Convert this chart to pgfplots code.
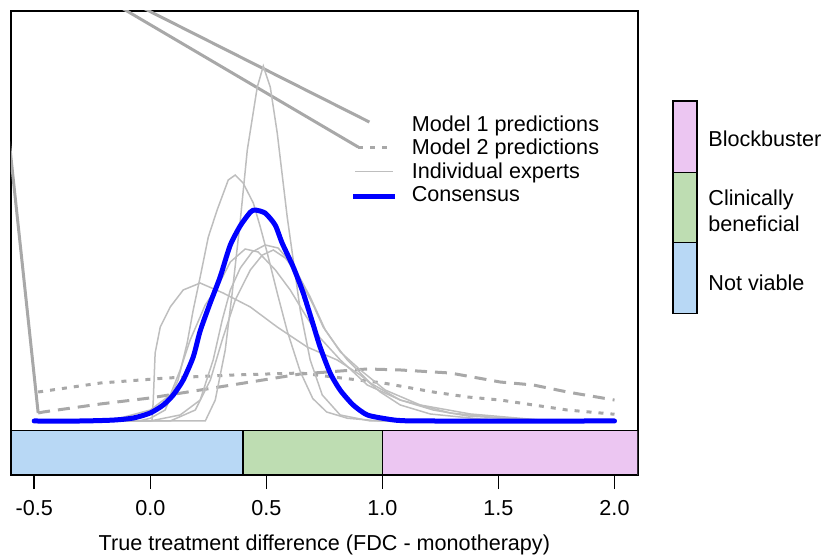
\documentclass[border=0pt]{standalone}
\usepackage{fontspec}
\setmainfont{Liberation Sans}
\usepackage{pgfplots}
\pgfplotsset{compat=1.18}

\definecolor{expgray}{RGB}{190,190,190}
\definecolor{modgray}{RGB}{168,168,168}
\definecolor{nvblue}{RGB}{184,216,245}
\definecolor{cbgreen}{RGB}{190,221,178}
\definecolor{bbpink}{RGB}{236,198,242}

\begin{document}
\fontsize{10.8}{13}\selectfont
\begin{tikzpicture}[font=\fontsize{10.8}{13}\selectfont]
% main density panel (1 px of the reference = 0.5pt)
\begin{axis}[name=main, scale only axis, width=313.35pt, height=210pt,
  xmin=-0.6, xmax=2.1, ymin=-0.108, ymax=4.559,
  xtick=\empty, ytick=\empty, axis line style={line width=1pt}]

% stray solid segments
\addplot[modgray, line width=1.5pt] coordinates {(-0.099,4.678) (0.944,3.322)};
\addplot[modgray, line width=1.5pt] coordinates {(-0.181,4.678) (0.896,3.044)};
\addplot[modgray, line width=1.5pt] coordinates {(-0.655,4.256) (-0.483,0.089)};

% model 1 (dashed)
\addplot[modgray, line width=1.5pt, dash pattern=on 6pt off 4pt] coordinates {
 (-0.483,0.089) (-0.461,0.1) (-0.215,0.189) (0.0,0.256) (0.215,0.344) (0.431,0.433)
 (0.646,0.522) (0.935,0.578) (1.077,0.567) (1.293,0.533) (1.508,0.433) (1.650,0.4)
 (1.797,0.322) (2.0,0.233)};
% model 2 (dotted)
\addplot[modgray, line width=1.5pt, dash pattern=on 2.5pt off 3.5pt] coordinates {
 (-0.483,0.322) (-0.215,0.422) (0.073,0.478) (0.358,0.511) (0.646,0.533) (0.788,0.489)
 (1.004,0.422) (1.219,0.322) (1.366,0.267) (1.508,0.233) (1.650,0.178) (1.797,0.122)
 (2.0,0.075)};

% individual experts
\addplot[expgray, line width=0.75pt] coordinates {
 (-0.5,0) (0.237,0) (0.280,0.233) (0.323,0.789) (0.353,1.422) (0.388,2.233) (0.418,3.011)
 (0.461,3.711) (0.487,3.944) (0.517,3.711) (0.547,3.2) (0.590,2.267) (0.616,1.789)
 (0.646,1.233) (0.689,0.678) (0.741,0.289) (0.818,0.067) (0.948,0) (2.0,0)};
\addplot[expgray, line width=0.75pt] coordinates {
 (-0.5,0) (-0.05,0) (0.0,0.03) (0.064,0.122) (0.120,0.456) (0.159,0.867) (0.185,1.233)
 (0.215,1.6) (0.250,2.044) (0.288,2.344) (0.336,2.678) (0.366,2.733) (0.400,2.644)
 (0.444,2.422) (0.474,2.156) (0.504,1.867) (0.547,1.422) (0.590,1.0) (0.646,0.55)
 (0.700,0.25) (0.760,0.1) (0.850,0.03) (0.991,0) (2.0,0)};
\addplot[expgray, line width=0.75pt] coordinates {
 (-0.5,0) (0.0,0) (0.008,0.011) (0.013,0.233) (0.021,0.756) (0.043,1.044) (0.086,1.267)
 (0.142,1.456) (0.215,1.533) (0.314,1.422) (0.431,1.267) (0.547,1.044) (0.676,0.822)
 (0.805,0.678) (0.905,0.511) (0.991,0.322) (1.077,0.178) (1.206,0.078) (1.422,0.022)
 (1.680,0) (2.0,0)};
\addplot[expgray, line width=0.75pt] coordinates {
 (-0.5,0) (-0.259,0) (-0.129,0.033) (0.0,0.122) (0.086,0.289) (0.129,0.567) (0.172,0.9)
 (0.237,1.289) (0.289,1.489) (0.345,1.767) (0.409,1.911) (0.465,1.878) (0.539,1.678)
 (0.603,1.456) (0.668,1.178) (0.732,0.922) (0.819,0.678) (0.935,0.4) (1.077,0.233)
 (1.219,0.122) (1.366,0.056) (1.650,0.011) (1.766,0) (2.0,0)};
\addplot[expgray, line width=0.75pt] coordinates {
 (-0.5,0) (0.0,0) (0.129,0.067) (0.215,0.233) (0.271,0.678) (0.310,1.122) (0.345,1.456)
 (0.388,1.7) (0.439,1.878) (0.495,1.956) (0.551,1.922) (0.603,1.767) (0.646,1.567)
 (0.702,1.289) (0.745,1.044) (0.806,0.822) (0.849,0.678) (0.948,0.422) (1.077,0.233)
 (1.293,0.089) (1.508,0.033) (1.766,0) (2.0,0)};
\addplot[expgray, line width=0.75pt] coordinates {
 (-0.5,0) (0.086,0) (0.194,0.122) (0.259,0.456) (0.310,0.9) (0.366,1.344) (0.431,1.678)
 (0.483,1.844) (0.530,1.9) (0.582,1.811) (0.638,1.622) (0.689,1.378) (0.754,1.011)
 (0.819,0.767) (0.905,0.567) (1.012,0.344) (1.163,0.178) (1.379,0.078) (1.680,0.011)
 (1.939,0) (2.0,0)};

% consensus
\addplot[blue, line width=2.5pt, line cap=round, smooth, tension=0.4] coordinates {
 (-0.5,0) (-0.3,0) (-0.16,0.01) (-0.073,0.033) (0.0,0.089) (0.056,0.178) (0.099,0.289)
 (0.142,0.456) (0.185,0.711) (0.215,1.0) (0.258,1.31) (0.301,1.6) (0.344,1.95)
 (0.388,2.17) (0.431,2.32) (0.452,2.344) (0.495,2.31) (0.538,2.178) (0.568,1.978)
 (0.616,1.711) (0.659,1.422) (0.702,1.07) (0.732,0.82) (0.775,0.533) (0.818,0.344)
 (0.874,0.178) (0.935,0.067) (1.021,0.022) (1.077,0.005) (1.2,0) (2.0,0)};

% legend
\draw[modgray, line width=1.5pt, dash pattern=on 2.5pt off 3.5pt]
  (axis cs:0.896,3.044) -- (axis cs:1.034,3.044);
\draw[expgray, line width=0.75pt] (axis cs:0.883,2.77) -- (axis cs:1.047,2.77);
\draw[blue, line width=2.5pt] (axis cs:0.875,2.492) -- (axis cs:1.056,2.492);
\node[anchor=base west, inner sep=0pt] at (axis cs:1.125,3.214) {Model 1 predictions};
\node[anchor=base west, inner sep=0pt] at (axis cs:1.125,2.956) {Model 2 predictions};
\node[anchor=base west, inner sep=0pt] at (axis cs:1.125,2.697) {Individual experts};
\node[anchor=base west, inner sep=0pt] at (axis cs:1.125,2.437) {Consensus};
\end{axis}

% category strip
\begin{axis}[name=strip, at={(main.south west)}, anchor=north west,
  scale only axis, width=313.35pt, height=22.15pt,
  xmin=-0.6, xmax=2.1, ymin=0, ymax=1, ytick=\empty,
  xtick={-0.5,0,0.5,1,1.5,2}, xticklabels={-0.5,0.0,0.5,1.0,1.5,2.0},
  tick align=outside, xtick pos=bottom, major tick length=7pt,
  tick style={black, line width=0.75pt}, axis line style={line width=1pt},
  xticklabel style={anchor=north, inner sep=0pt, yshift=-5.5pt},
  xlabel={True treatment difference (FDC - monotherapy)},
  xlabel style={at={(axis description cs:0.5,0)}, anchor=base, inner sep=0pt, yshift=-37.5pt}]
\addplot[fill=nvblue, draw=black, line width=0.75pt] coordinates {(-0.6,0) (-0.6,1) (0.4,1) (0.4,0)} -- cycle;
\addplot[fill=cbgreen, draw=black, line width=0.75pt] coordinates {(0.4,0) (0.4,1) (1.0,1) (1.0,0)} -- cycle;
\addplot[fill=bbpink, draw=black, line width=0.75pt] coordinates {(1.0,0) (1.0,1) (2.1,1) (2.1,0)} -- cycle;
\end{axis}

% category key
\draw[line width=0.75pt, fill=bbpink] ([shift={(331pt,-45.15pt)}]main.north west) rectangle ([shift={(343pt,-80.8pt)}]main.north west);
\draw[line width=0.75pt, fill=cbgreen] ([shift={(331pt,-80.8pt)}]main.north west) rectangle ([shift={(343pt,-116pt)}]main.north west);
\draw[line width=0.75pt, fill=nvblue] ([shift={(331pt,-116pt)}]main.north west) rectangle ([shift={(343pt,-151.3pt)}]main.north west);
\node[anchor=base west, inner sep=0pt] at ([shift={(348.5pt,-67.65pt)}]main.north west) {Blockbuster};
\node[anchor=base west, inner sep=0pt] at ([shift={(348.5pt,-97.15pt)}]main.north west) {Clinically};
\node[anchor=base west, inner sep=0pt] at ([shift={(348.5pt,-110.5pt)}]main.north west) {beneficial};
\node[anchor=base west, inner sep=0pt] at ([shift={(348.5pt,-139.65pt)}]main.north west) {Not viable};

\pgfresetboundingbox
\path[use as bounding box] ([shift={(-5.5pt,5.35pt)}]main.north west) rectangle ([shift={(411.5pt,-271.65pt)}]main.north west);
\end{tikzpicture}
\end{document}
